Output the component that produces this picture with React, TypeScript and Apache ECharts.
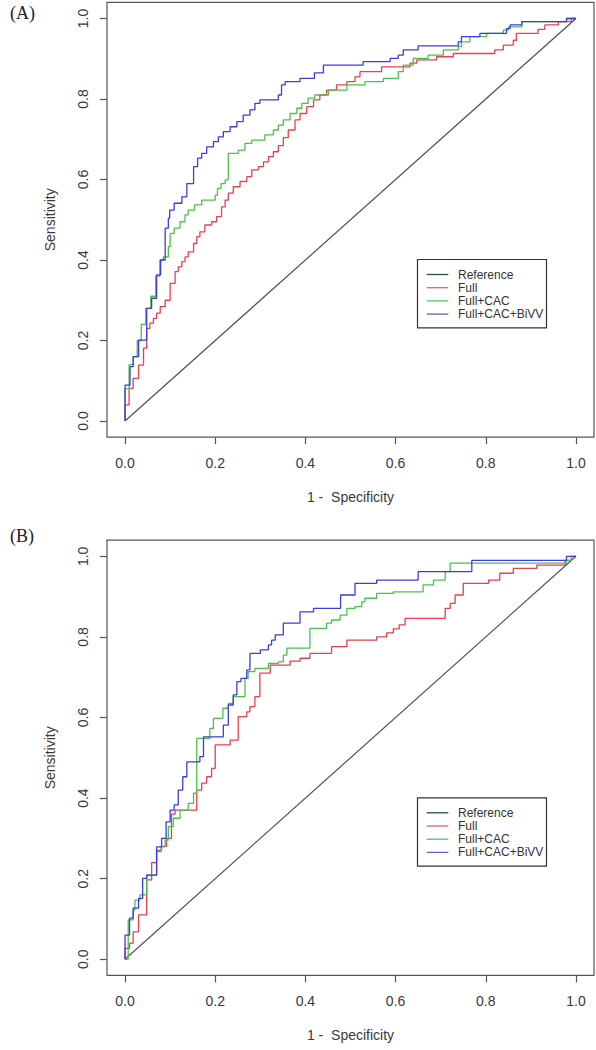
import { useEffect, useRef } from "react";
import * as echarts from "echarts";

const tickValues = [0, 0.2, 0.4, 0.6, 0.8, 1.0];
const legendLabels = ["Reference", "Full", "Full+CAC", "Full+CAC+BiVV"];
const panelLabels = ["(A)", "(B)"];
const xTitle = "1 -  Specificity";
const yTitle = "Sensitivity";

const referenceLine = [[0, 0], [1, 1]];

const rocA_Full = [[0,0],[0,0.04],[0.009,0.081],[0.018,0.106],[0.03,0.139],[0.041,0.181],[0.048,0.23],[0.055,0.243],[0.063,0.255],[0.07,0.268],[0.078,0.284],[0.089,0.3],[0.1,0.342],[0.111,0.371],[0.118,0.383],[0.126,0.396],[0.133,0.408],[0.14,0.42],[0.152,0.441],[0.159,0.458],[0.166,0.47],[0.177,0.487],[0.192,0.495],[0.203,0.508],[0.214,0.532],[0.222,0.549],[0.229,0.566],[0.24,0.582],[0.255,0.595],[0.27,0.607],[0.281,0.624],[0.296,0.632],[0.307,0.644],[0.318,0.657],[0.329,0.669],[0.34,0.684],[0.351,0.704],[0.362,0.723],[0.377,0.748],[0.388,0.764],[0.403,0.781],[0.418,0.798],[0.432,0.81],[0.447,0.822],[0.469,0.835],[0.492,0.843],[0.51,0.855],[0.521,0.868],[0.569,0.88],[0.632,0.889],[0.647,0.897],[0.691,0.905],[0.728,0.913],[0.82,0.922],[0.839,0.934],[0.861,0.946],[0.868,0.963],[0.916,0.973],[0.931,0.984],[0.961,0.992],[0.99,1.0],[1,1]];

const rocA_FullCAC = [[0,0],[0,0.08],[0.009,0.14],[0.018,0.16],[0.027,0.2],[0.036,0.24],[0.046,0.28],[0.057,0.31],[0.068,0.36],[0.077,0.4],[0.085,0.408],[0.096,0.433],[0.1,0.466],[0.109,0.479],[0.122,0.495],[0.133,0.512],[0.14,0.524],[0.154,0.537],[0.17,0.549],[0.2,0.561],[0.205,0.578],[0.213,0.59],[0.222,0.599],[0.229,0.665],[0.251,0.673],[0.266,0.69],[0.281,0.698],[0.31,0.711],[0.329,0.723],[0.34,0.735],[0.351,0.748],[0.366,0.764],[0.381,0.777],[0.392,0.789],[0.406,0.802],[0.421,0.81],[0.451,0.822],[0.492,0.835],[0.532,0.843],[0.573,0.851],[0.606,0.868],[0.617,0.884],[0.639,0.901],[0.672,0.909],[0.706,0.922],[0.739,0.93],[0.746,0.942],[0.765,0.955],[0.802,0.963],[0.839,0.971],[0.85,0.979],[0.88,0.992],[0.979,1.0],[1,1]];

const rocA_FullCACBiVV = [[0,0],[0,0.089],[0.011,0.135],[0.018,0.16],[0.03,0.201],[0.048,0.28],[0.059,0.305],[0.07,0.363],[0.079,0.4],[0.089,0.479],[0.096,0.504],[0.099,0.524],[0.109,0.541],[0.126,0.557],[0.137,0.59],[0.152,0.632],[0.161,0.653],[0.17,0.665],[0.181,0.681],[0.196,0.694],[0.207,0.706],[0.218,0.719],[0.233,0.731],[0.248,0.744],[0.262,0.76],[0.277,0.773],[0.288,0.789],[0.299,0.798],[0.34,0.81],[0.347,0.835],[0.355,0.843],[0.388,0.851],[0.42,0.865],[0.44,0.884],[0.528,0.893],[0.588,0.901],[0.606,0.909],[0.617,0.922],[0.65,0.932],[0.739,0.942],[0.746,0.955],[0.787,0.963],[0.846,0.975],[0.854,0.984],[0.88,0.992],[0.979,1.0],[1,1]];

const rocB_Full = [[0,0],[0,0.027],[0.01,0.04],[0.018,0.068],[0.03,0.11],[0.048,0.197],[0.059,0.24],[0.07,0.27],[0.081,0.28],[0.092,0.3],[0.103,0.36],[0.111,0.37],[0.159,0.42],[0.17,0.437],[0.181,0.453],[0.192,0.474],[0.2,0.532],[0.233,0.544],[0.251,0.602],[0.27,0.614],[0.277,0.627],[0.288,0.652],[0.299,0.71],[0.322,0.73],[0.366,0.74],[0.388,0.747],[0.41,0.759],[0.458,0.776],[0.492,0.792],[0.558,0.8],[0.58,0.81],[0.595,0.82],[0.608,0.83],[0.621,0.846],[0.71,0.871],[0.721,0.883],[0.732,0.904],[0.75,0.933],[0.806,0.941],[0.831,0.958],[0.861,0.97],[0.913,0.978],[0.976,0.99],[0.99,1.0],[1,1]];

const rocB_FullCAC = [[0,0],[0.007,0.098],[0.018,0.122],[0.022,0.147],[0.033,0.16],[0.048,0.209],[0.07,0.267],[0.08,0.279],[0.089,0.296],[0.096,0.329],[0.107,0.35],[0.122,0.37],[0.14,0.387],[0.152,0.412],[0.159,0.548],[0.188,0.573],[0.196,0.598],[0.217,0.623],[0.229,0.635],[0.24,0.652],[0.266,0.697],[0.273,0.714],[0.288,0.722],[0.318,0.734],[0.34,0.738],[0.351,0.755],[0.359,0.772],[0.41,0.821],[0.447,0.834],[0.458,0.842],[0.477,0.854],[0.492,0.871],[0.51,0.875],[0.525,0.887],[0.532,0.896],[0.558,0.908],[0.595,0.912],[0.661,0.929],[0.684,0.941],[0.71,0.962],[0.721,0.983],[0.979,0.99],[0.99,1.0],[1,1]];

const rocB_FullCACBiVV = [[0,0],[0,0.06],[0.01,0.102],[0.018,0.127],[0.03,0.151],[0.039,0.201],[0.048,0.209],[0.07,0.279],[0.081,0.3],[0.091,0.341],[0.1,0.37],[0.109,0.383],[0.118,0.42],[0.128,0.453],[0.137,0.49],[0.166,0.503],[0.174,0.552],[0.218,0.581],[0.229,0.631],[0.24,0.656],[0.248,0.689],[0.257,0.697],[0.27,0.718],[0.277,0.759],[0.3,0.768],[0.318,0.78],[0.325,0.792],[0.333,0.805],[0.351,0.834],[0.388,0.862],[0.418,0.871],[0.478,0.904],[0.51,0.933],[0.558,0.941],[0.65,0.962],[0.769,0.99],[0.979,1.0],[1,1]];

const COLORS = {
  reference: "#505050",
  full: "#e8404c",
  fullCAC: "#4cc04c",
  bivv: "#3c3ce0",
};
const LEGEND_COLORS = ["#2f4a4a", "#e06070", "#50c070", "#6060c0"];
const FONT = "'Liberation Sans', Arial, sans-serif";

const PANELS = [
  { top: 2.4, height: 434.7, curves: [rocA_Full, rocA_FullCAC, rocA_FullCACBiVV], legendTop: 259.5, labelY: 12.5 },
  { top: 540.2, height: 435.2, curves: [rocB_Full, rocB_FullCAC, rocB_FullCACBiVV], legendTop: 797.8, labelY: 535.5 },
];

export default function App() {
  const ref = useRef<HTMLDivElement>(null);
  useEffect(() => {
    if (!ref.current) return;
    const chart = echarts.init(ref.current, null, { renderer: "svg" });
    const grids: any[] = [];
    const xAxes: any[] = [];
    const yAxes: any[] = [];
    const series: any[] = [];
    const graphics: any[] = [];
    PANELS.forEach((p, i) => {
      grids.push({
        left: 107,
        right: 2,
        top: p.top,
        height: p.height,
        show: true,
        borderColor: "#555",
        borderWidth: 1.2,
        backgroundColor: "transparent",
      });
      xAxes.push({
        gridIndex: i,
        type: "value",
        min: -0.04,
        max: 1.04,
        axisLine: { show: false, onZero: false },
        axisTick: { show: true, inside: false, length: 7, customValues: tickValues, lineStyle: { color: "#555", width: 1.2 } },
        axisLabel: {
          customValues: tickValues,
          formatter: (v: number) => v.toFixed(1),
          margin: 19,
          color: "#3a3a3a",
          fontSize: 14,
          fontFamily: FONT,
        },
        splitLine: { show: false },
        name: xTitle,
        nameLocation: "middle",
        nameGap: 53,
        nameTextStyle: { color: "#3a3a3a", fontSize: 14, fontFamily: FONT },
      });
      yAxes.push({
        gridIndex: i,
        type: "value",
        min: -0.04,
        max: 1.04,
        axisLine: { show: false, onZero: false },
        axisTick: { show: true, inside: false, length: 7, customValues: tickValues, lineStyle: { color: "#555", width: 1.2 } },
        axisLabel: {
          customValues: tickValues,
          formatter: (v: number) => v.toFixed(1),
          rotate: 90,
          margin: 17,
          color: "#3a3a3a",
          fontSize: 14,
          fontFamily: FONT,
        },
        splitLine: { show: false },
        name: yTitle,
        nameLocation: "middle",
        nameGap: 50,
        nameTextStyle: { color: "#3a3a3a", fontSize: 14, fontFamily: FONT },
      });
      series.push({
        type: "line",
        name: legendLabels[0],
        xAxisIndex: i,
        yAxisIndex: i,
        data: referenceLine,
        showSymbol: false,
        lineStyle: { color: COLORS.reference, width: 1.2 },
      });
      const cols = [COLORS.full, COLORS.fullCAC, COLORS.bivv];
      p.curves.forEach((c, k) => {
        series.push({
          type: "line",
          name: legendLabels[k + 1],
          xAxisIndex: i,
          yAxisIndex: i,
          data: c,
          step: "end",
          showSymbol: false,
          lineStyle: { color: cols[k], width: 1.3 },
        });
      });
      graphics.push({
        type: "text",
        x: 10,
        y: p.labelY,
        style: {
          text: panelLabels[i],
          font: "18px 'Liberation Serif', 'Times New Roman', serif",
          fill: "#222",
          verticalAlign: "middle",
          textAlign: "left",
        },
      });
      const lx = 417.5;
      const ly = p.legendTop;
      graphics.push({
        type: "rect",
        shape: { x: lx, y: ly, width: 129, height: 68.3 },
        style: { fill: "#fff", stroke: "#333", lineWidth: 1.2 },
        z: 10,
      });
      legendLabels.forEach((lab, k) => {
        const yy = ly + 15 + k * 13.2;
        graphics.push({
          type: "line",
          shape: { x1: 426.7, y1: yy, x2: 448.3, y2: yy },
          style: { stroke: LEGEND_COLORS[k], lineWidth: 1.3 },
          z: 11,
        });
        graphics.push({
          type: "text",
          x: 458,
          y: yy,
          style: {
            text: lab,
            font: `12px ${FONT}`,
            fill: "#333",
            verticalAlign: "middle",
            textAlign: "left",
          },
          z: 11,
        });
      });
    });
    chart.setOption({
      animation: false,
      backgroundColor: "#fff",
      grid: grids,
      xAxis: xAxes,
      yAxis: yAxes,
      series,
      graphic: graphics,
    });
    return () => chart.dispose();
  }, []);
  return (
    <div
      ref={ref}
      style={{ position: "absolute", left: 0, top: 0, width: 596, height: 1050, background: "#fff" }}
    />
  );
}
